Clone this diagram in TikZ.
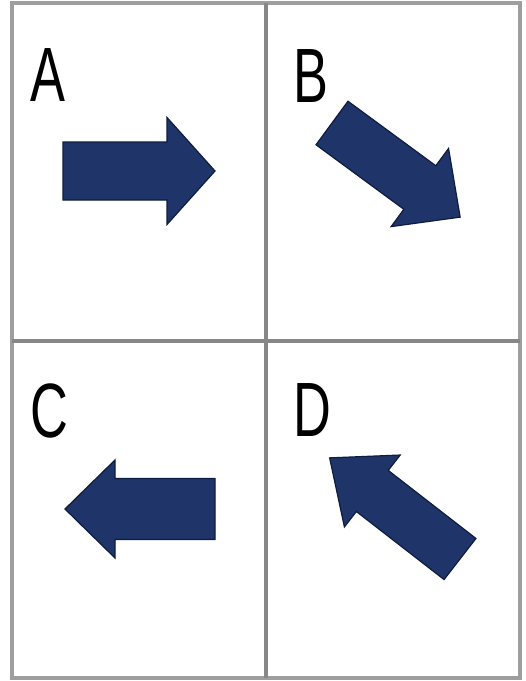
\documentclass[tikz,border=0pt]{standalone}
\usepackage{fontspec}
\setmainfont{Liberation Sans}
\definecolor{arrowfill}{HTML}{1F3468}
\definecolor{arrowedge}{HTML}{0E1C40}
\definecolor{outergray}{HTML}{9E9E9E}
\definecolor{innergray}{HTML}{878787}
\tikzset{
  fatarrowstyle/.style={fill=arrowfill, draw=arrowedge, line width=1.2pt, line join=miter},
  letter/.style={inner sep=0pt, font=\fontsize{77}{80}\selectfont, xscale=0.68},
  pics/fatarrow/.style n args={4}{code={
    \path[fatarrowstyle] (0,-#3) -- ({#1-#2},-#3) -- ({#1-#2},-#4) -- (#1,0)
      -- ({#1-#2},#4) -- ({#1-#2},#3) -- (0,#3) -- cycle;}}
}
\begin{document}
\begin{tikzpicture}[x=1pt,y=1pt]
\useasboundingbox (0,0) rectangle (526,-681);
\fill[white] (0,0) rectangle (526,-681);
% grid
\draw[outergray, line width=4.5pt] (12,-3) rectangle (520,-678);
\draw[innergray, line width=4pt] (266,-3) -- (266,-678);
\draw[innergray, line width=4pt] (12,-341) -- (520,-341);
% labels
\node[letter] (la) at (47.5,-75.5) {A};
\node[letter] (lb) at (311,-76.5) {B};
\node[letter] (lc) at (49.5,-410.5) {C};
\node[letter] (ld) at (312.5,-410.5) {D};
% arrows
\path (63,-171) pic {fatarrow={152}{48}{29}{53.5}};
\path (332,-123) pic[rotate=-36.3] {fatarrow={159}{50}{27}{48.5}};
\path (215,-509) pic[rotate=180] {fatarrow={150}{50}{30.5}{49}};
\path (460,-559) pic[rotate=142.2] {fatarrow={165}{54}{26}{45.5}};
\end{tikzpicture}
\end{document}
